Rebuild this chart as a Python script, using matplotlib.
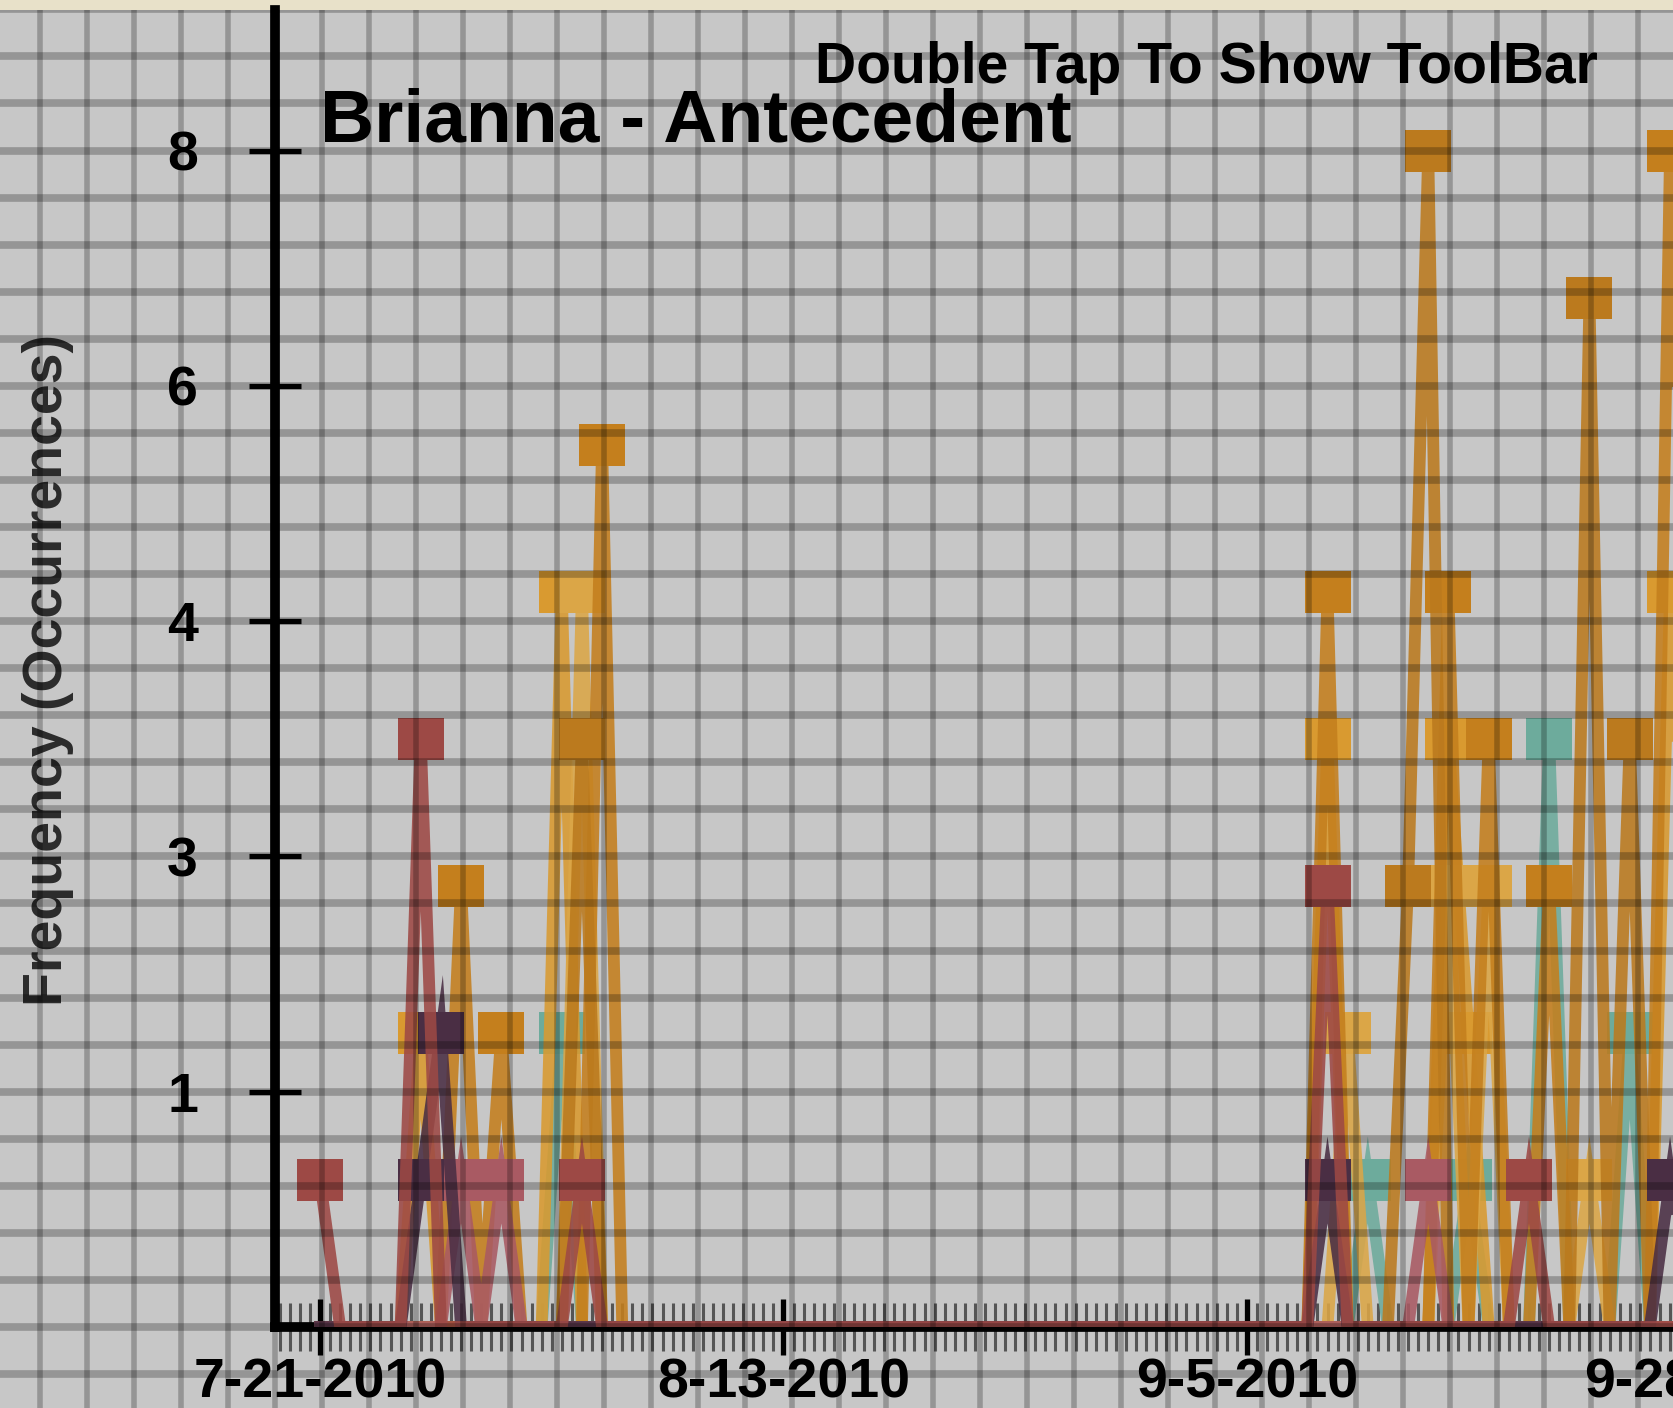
import numpy as np
import pandas as pd
import matplotlib
matplotlib.use('Agg')
import matplotlib.pyplot as plt
import matplotlib.dates as mdates
from matplotlib.path import Path
from matplotlib.patches import Rectangle
from matplotlib.ticker import FixedLocator, FuncFormatter

plt.rcParams['font.family'] = ['Liberation Sans', 'DejaVu Sans']
plt.rcParams['font.weight'] = 'bold'

W, H, DPI = 1674, 1408, 100

# ---- data (day offset from 7-21-2010 -> occurrences) ----
START = '2010-07-21'
N_DAYS = 70

TEAL_DAYS      = [12, 52, 57, 61, 65]
TEAL_VALS      = [2, 1, 1, 4, 2]
GOLDEN_DAYS    = [5, 12, 50, 56, 57, 67]
GOLDEN_VALS    = [2, 5, 4, 4, 2, 5]
LIGHTGOLD_DAYS = [13, 51, 56, 58, 63]
LIGHTGOLD_VALS = [5, 2, 3, 3, 1]
ORANGE_DAYS    = [7, 9, 14, 50, 56, 58, 61, 67]
ORANGE_VALS    = [3, 2, 6, 5, 5, 4, 3, 8]
AMBER_DAYS     = [13, 54, 55, 63, 65]
AMBER_VALS     = [4, 3, 8, 7, 4]
PINK_DAYS      = [7, 9, 55]
PINK_VALS      = [1, 1, 1]
PLUM_DAYS      = [5, 6, 50, 67]
PLUM_VALS      = [1, 2, 1, 1]
RED_DAYS       = [0, 5, 13, 50, 60]
RED_VALS       = [1, 4, 1, 3, 1]

SERIES = [
    (TEAL_DAYS, TEAL_VALS, '#6dab9c'),
    (GOLDEN_DAYS, GOLDEN_VALS, '#d99a30'),
    (LIGHTGOLD_DAYS, LIGHTGOLD_VALS, '#dba647'),
    (ORANGE_DAYS, ORANGE_VALS, '#c47f1d'),
    (AMBER_DAYS, AMBER_VALS, '#bb7a1e'),
    (PINK_DAYS, PINK_VALS, '#a95a63'),
    (PLUM_DAYS, PLUM_VALS, '#4a2e44'),
    (RED_DAYS, RED_VALS, '#9d4945'),
]

Y_TICKS = [1.6, 3.2, 4.8, 6.4, 8.0]
X_TICK_DATES = ['2010-07-21', '2010-08-13', '2010-09-05', '2010-09-28']

TITLE = 'Brianna - Antecedent'
BANNER = 'Double Tap To Show ToolBar'
YLABEL = 'Frequency (Occurrences)'

# ---- layout in screenshot pixels ----
AXIS_X = 275       # y axis position
FIRST_X = 320      # 7-21 position
BASE_Y = 1327      # y = 0
TOP8_Y = 150.5     # y = 8
STRIP = 10         # beige strip on top
DAY_PX = 20.15
RIGHT_PX = 1824    # axes continue past the cropped edge

dates = pd.date_range(START, periods=N_DAYS)
x0 = mdates.date2num(dates[0])

fig = plt.figure(figsize=(W / DPI, H / DPI), dpi=DPI, facecolor='#c7c7c7')
fig.add_artist(Rectangle((0, 1 - STRIP / H), 1, STRIP / H, transform=fig.transFigure,
                         facecolor='#e8e1c9', edgecolor='none', zorder=0))

ax = fig.add_axes([AXIS_X / W, (H - BASE_Y) / H,
                   (RIGHT_PX - AXIS_X) / W, (BASE_Y - STRIP) / H])
ax.set_facecolor('none')
ax.set_xlim(x0 - (FIRST_X - AXIS_X) / DAY_PX, x0 + (RIGHT_PX - FIRST_X) / DAY_PX)
ax.set_ylim(0, 8 * (BASE_Y - STRIP) / (BASE_Y - TOP8_Y))

rect = Path([(-1.1, -1), (1.1, -1), (1.1, 1), (-1.1, 1), (-1.1, -1)], closed=True)

for days, vals, color in SERIES:
    y = np.zeros(N_DAYS)
    y[days] = vals
    ax.plot(dates, y, color=color, lw=8.5, alpha=0.88, zorder=3, solid_joinstyle='miter')
    ax.plot(dates[days], vals, linestyle='none', marker=rect, ms=33, mew=0,
            mfc=color, zorder=3)

for side in ['top', 'right']:
    ax.spines[side].set_visible(False)
for side in ['left', 'bottom']:
    ax.spines[side].set_linewidth(7)
    ax.spines[side].set_color('black')

ax.yaxis.set_major_locator(FixedLocator(Y_TICKS))
ax.yaxis.set_major_formatter(FuncFormatter(lambda v, p: str(int(v))))
ax.tick_params(axis='y', direction='inout', length=37, width=3.8, color='black',
               pad=37, labelsize=40)

ax.set_xticks(mdates.date2num(pd.to_datetime(X_TICK_DATES)))
ax.xaxis.set_major_formatter(FuncFormatter(
    lambda v, p: '{0.month}-{0.day}-{0.year}'.format(mdates.num2date(v))))
ax.xaxis.set_minor_locator(mdates.HourLocator(byhour=[0, 12]))
ax.tick_params(axis='x', which='major', direction='inout', length=40, width=3.8,
               color='black', pad=2, labelsize=40)
ax.tick_params(axis='x', which='minor', direction='inout', length=34, width=2.2,
               color='#555555')

fig.text(FIRST_X / W, (H - 142) / H, TITLE, fontsize=54, ha='left', va='baseline')
fig.text(815 / W, (H - 83) / H, BANNER, fontsize=41, ha='left', va='baseline')
fig.text(48 / W, 0.524, YLABEL, fontsize=40, rotation=90, ha='center', va='center',
         color='#2b2b2b')

# paper-like grid drawn over everything
gax = fig.add_axes([0, 0, 1, (H - STRIP) / H], zorder=10)
gax.set_xlim(0, W)
gax.set_ylim(H, STRIP)
gax.axis('off')
step_x = 47.0
step_y = (BASE_Y - TOP8_Y) / 25
gx = np.arange(AXIS_X - step_x * 6, W + step_x, step_x)
gy = np.arange(TOP8_Y - step_y * 3, H + step_y, step_y)
gax.vlines(gx, STRIP, H, color='black', alpha=0.25, lw=4.0)
gax.hlines(gy, 0, W, color='black', alpha=0.25, lw=5.5)

fig.savefig('out.png', dpi=DPI, facecolor=fig.get_facecolor())
